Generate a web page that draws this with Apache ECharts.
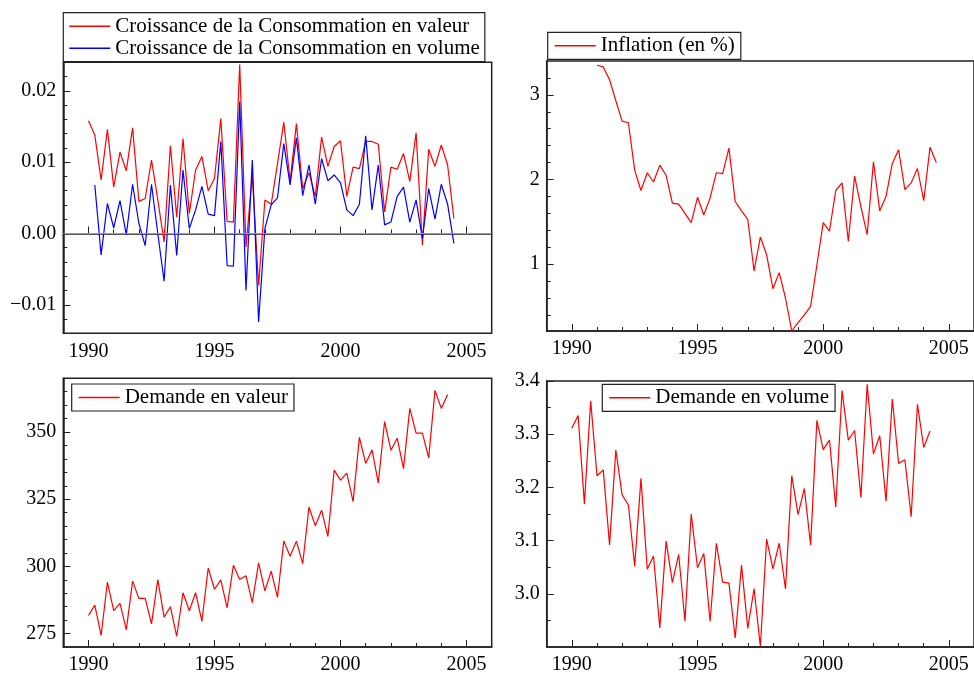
<!DOCTYPE html>
<html>
<head>
<meta charset="utf-8">
<script src="https://cdn.jsdelivr.net/npm/echarts@6/dist/echarts.min.js"></script>
<style>
  html, body { margin: 0; padding: 0; background: #fff; }
  #chart { width: 974px; height: 675px; }
</style>
</head>
<body>
<div id="chart"></div>
<script>
// quarterly series
const croissanceValeur = [0.0158, 0.0138, 0.0075, 0.0146, 0.0065, 0.0114, 0.0088, 0.0148, 0.0045, 0.0049,
  0.0103, 0.0047, -0.0012, 0.0123, 0.0023, 0.0133, 0.0028, 0.0089, 0.0108, 0.0060,
  0.0077, 0.0161, 0.0017, 0.0016, 0.0237, -0.0019, 0.0082, -0.0073, 0.0047, 0.0041,
  0.0098, 0.0156, 0.0073, 0.0154, 0.0063, 0.0085, 0.0052, 0.0135, 0.0094, 0.0122,
  0.0130, 0.0052, 0.0093, 0.0091, 0.0129, 0.0129, 0.0125, 0.0030, 0.0093, 0.0090,
  0.0112, 0.0073, 0.0141, -0.0016, 0.0118, 0.0094, 0.0124, 0.0096, 0.0021]  // 1990Q1 -
const croissanceVolume = [0.0068, -0.0030, 0.0042, 0.0008, 0.0046, -0.0002, 0.0069, 0.0014, -0.0017,
  0.0069, 0.0000, -0.0067, 0.0068, -0.0031, 0.0089, 0.0007, 0.0033, 0.0066, 0.0027,
  0.0025, 0.0129, -0.0045, -0.0046, 0.0185, -0.0080, 0.0103, -0.0124, 0.0007, 0.0040,
  0.0050, 0.0126, 0.0068, 0.0134, 0.0053, 0.0096, 0.0041, 0.0105, 0.0074, 0.0082,
  0.0071, 0.0033, 0.0025, 0.0041, 0.0137, 0.0033, 0.0096, 0.0012, 0.0016, 0.0052,
  0.0065, 0.0016, 0.0047, -0.0007, 0.0063, 0.0020, 0.0069, 0.0041, -0.0014]  // 1990Q2 -
const inflation = [3.35, 3.33, 3.18, 2.93, 2.69, 2.67, 2.11, 1.87, 2.08, 1.97,
  2.17, 2.05, 1.72, 1.71, 1.60, 1.49, 1.79, 1.58, 1.78, 2.08,
  2.07, 2.37, 1.74, 1.63, 1.53, 0.92, 1.32, 1.11, 0.71, 0.90,
  0.60, 0.21, 0.31, 0.40, 0.50, 0.99, 1.49, 1.39, 1.87, 1.96,
  1.27, 2.04, 1.68, 1.35, 2.21, 1.63, 1.80, 2.19, 2.35, 1.88,
  1.96, 2.13, 1.75, 2.38, 2.20]  // 1991Q1 -
const demandeValeur = [281.7, 285.6, 274.3, 294.1, 283.5, 286.2, 276.4, 294.5, 288.1, 288.1,
  278.6, 295.1, 281.1, 285.0, 274.0, 290.2, 283.5, 290.2, 279.5, 299.4,
  291.5, 295.0, 284.6, 300.4, 295.1, 296.5, 286.5, 301.3, 290.9, 298.2,
  288.5, 309.5, 303.8, 309.4, 301.0, 322.1, 315.1, 320.9, 311.1, 335.8,
  332.1, 334.7, 324.1, 348.0, 338.3, 343.4, 331.1, 353.9, 343.2, 347.7,
  336.4, 358.8, 349.6, 349.6, 340.4, 365.5, 358.8, 364.0]  // 1990Q1 -
const demandeVolume = [3.311, 3.335, 3.169, 3.363, 3.222, 3.233, 3.092, 3.270, 3.186, 3.167,
  3.052, 3.217, 3.046, 3.071, 2.936, 3.099, 3.021, 3.074, 2.949, 3.150,
  3.049, 3.076, 2.948, 3.095, 3.022, 3.020, 2.917, 3.054, 2.935, 3.010,
  2.901, 3.103, 3.047, 3.095, 3.009, 3.222, 3.149, 3.198, 3.092, 3.326,
  3.271, 3.289, 3.163, 3.382, 3.289, 3.307, 3.181, 3.394, 3.263, 3.297,
  3.174, 3.366, 3.245, 3.252, 3.145, 3.356, 3.275, 3.306]  // 1990Q1 -

// tick labels
const yearTicks = [1990, 1995, 2000, 2005]
const yearMinor = [1990, 1991, 1992, 1993, 1994, 1995, 1996, 1997, 1998, 1999, 2000, 2001, 2002, 2003, 2004, 2005]
const croisTicks = [-0.01, 0, 0.01, 0.02]
const croisMinor = [-0.012, -0.01, -0.008, -0.006, -0.004, -0.002, 0, 0.002, 0.004, 0.006, 0.008, 0.01, 0.012, 0.014, 0.016, 0.018, 0.02, 0.022]
const inflTicks = [1, 2, 3]
const inflMinor = [0.4, 0.6, 0.8, 1, 1.2, 1.4, 1.6, 1.8, 2, 2.2, 2.4, 2.6, 2.8, 3, 3.2]
const valTicks = [275, 300, 325, 350]
const valMinor = [275, 280, 285, 290, 295, 300, 305, 310, 315, 320, 325, 330, 335, 340, 345, 350, 355, 360, 365]
const volTicks = [3.0, 3.1, 3.2, 3.3, 3.4]
const volMinor = [2.95, 3.0, 3.05, 3.1, 3.15, 3.2, 3.25, 3.3, 3.35]

const FONT = 'Liberation Serif'
const INK = '#222'

function quarterly (year, quarter, values) {
  return values.map((v, i) => [year + (quarter - 1 + i) / 4, v])
}

function minorX (g) {
  return {
    type: 'value', gridIndex: g, min: 1989, max: 2006, position: 'bottom',
    axisLine: {show: true, lineStyle: {color: INK, width: 1.5}},
    axisTick: {show: true, inside: true, length: 4, customValues: yearMinor, lineStyle: {color: INK}},
    axisLabel: {show: false},
    splitLine: {show: false}
  }
}
function majorX (g) {
  return {
    type: 'value', gridIndex: g, min: 1989, max: 2006, position: 'bottom',
    axisLine: {show: false},
    axisTick: {show: true, inside: true, length: 7, customValues: yearTicks, lineStyle: {color: INK}},
    axisLabel: {customValues: yearTicks, margin: 8, fontFamily: FONT, fontSize: 20, color: '#000', formatter: v => String(v)},
    splitLine: {show: false}
  }
}
function minorY (g, min, max, ticks) {
  return {
    type: 'value', gridIndex: g, min: min, max: max, position: 'left',
    axisLine: {show: true, lineStyle: {color: INK, width: 1.5}},
    axisTick: {show: true, inside: true, length: 4, customValues: ticks, lineStyle: {color: INK}},
    axisLabel: {show: false},
    splitLine: {show: false}
  }
}
function majorY (g, min, max, ticks, fmt) {
  return {
    type: 'value', gridIndex: g, min: min, max: max, position: 'left',
    axisLine: {show: false},
    axisTick: {show: true, inside: true, length: 7, customValues: ticks, lineStyle: {color: INK}},
    axisLabel: {customValues: ticks, margin: 7, fontFamily: FONT, fontSize: 20, color: '#000', formatter: fmt},
    splitLine: {show: false}
  }
}
function legendBox (names, left, top, padding, gap) {
  return {
    data: names, orient: 'vertical', left: left, top: top, padding: padding,
    itemGap: gap || 0, itemWidth: 41, itemHeight: 1.4, icon: 'rect', selectedMode: false,
    backgroundColor: '#fff', borderColor: INK, borderWidth: 1.2, borderRadius: 0,
    textStyle: {fontFamily: FONT, fontSize: 21, color: '#000', lineHeight: 21}
  }
}
function line (name, color, g, data, extra) {
  return Object.assign({
    name: name, type: 'line', xAxisIndex: 2 * g, yAxisIndex: 2 * g,
    data: data, symbol: 'none', showSymbol: false, animation: false,
    lineStyle: {color: color, width: 1.2}, itemStyle: {color: color}
  }, extra || {})
}

const nomValeur = 'Croissance de la Consommation en valeur'
const nomVolume = 'Croissance de la Consommation en volume'

const chart = echarts.init(document.getElementById('chart'))
chart.setOption({
  animation: false,
  grid: [
    {left: 63.3, top: 62.3, width: 428.4, height: 271, show: true, borderColor: INK, borderWidth: 1.5, backgroundColor: 'transparent'},
    {left: 546.7, top: 61, width: 428.3, height: 270, show: true, borderColor: INK, borderWidth: 1.5, backgroundColor: 'transparent'},
    {left: 63.3, top: 378.3, width: 428.4, height: 271, show: true, borderColor: INK, borderWidth: 1.5, backgroundColor: 'transparent'},
    {left: 546.7, top: 381, width: 428.3, height: 270.7, show: true, borderColor: INK, borderWidth: 1.5, backgroundColor: 'transparent'}
  ],
  xAxis: [minorX(0), majorX(0), minorX(1), majorX(1), minorX(2), majorX(2), minorX(3), majorX(3)],
  yAxis: [
    minorY(0, -0.014, 0.024, croisMinor),
    majorY(0, -0.014, 0.024, croisTicks, v => v.toFixed(2).replace('-', '\u2212')),
    minorY(1, 0.21, 3.40, inflMinor),
    majorY(1, 0.21, 3.40, inflTicks, v => String(v)),
    minorY(2, 270, 370, valMinor),
    majorY(2, 270, 370, valTicks, v => String(v)),
    minorY(3, 2.90, 3.40, volMinor),
    majorY(3, 2.90, 3.40, volTicks, v => v.toFixed(1))
  ],
  legend: [
    legendBox([nomValeur, nomVolume], 63.3, 12.7, [3, 5, 3, 6], 1),
    legendBox(['Inflation (en %)'], 547.7, 32.3, [3, 6, 3, 7]),
    legendBox(['Demande en valeur'], 71.7, 384, [3, 6, 3, 7]),
    legendBox(['Demande en volume'], 602.3, 384.3, [3, 6, 3, 7])
  ],
  series: [
    line(nomValeur, '#ff0000', 0, quarterly(1990, 1, croissanceValeur), {
      markLine: {
        silent: true, symbol: 'none', animation: false,
        label: {show: false},
        lineStyle: {color: '#9a9a9a', width: 1.2, type: 'solid'},
        data: [{yAxis: 0}]
      }
    }),
    line(nomVolume, '#0000ff', 0, quarterly(1990, 2, croissanceVolume)),
    line('Inflation (en %)', '#ff0000', 1, quarterly(1991, 1, inflation)),
    line('Demande en valeur', '#ff0000', 2, quarterly(1990, 1, demandeValeur)),
    line('Demande en volume', '#ff0000', 3, quarterly(1990, 1, demandeVolume))
  ]
})
</script>
</body>
</html>
